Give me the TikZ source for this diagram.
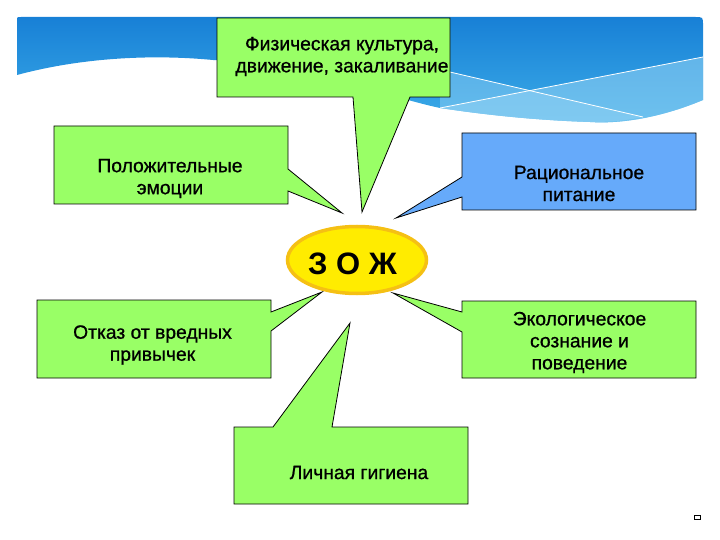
\documentclass[tikz,border=0pt]{standalone}
\usepackage{fontspec}
\setmainfont{Liberation Sans}
\newfontfamily\boxfont[FakeBold=0.8]{Liberation Sans}
\definecolor{callgreen}{RGB}{153,255,102}
\definecolor{callblue}{RGB}{102,170,250}
\definecolor{zojyellow}{RGB}{255,236,0}
\definecolor{zojrim}{RGB}{245,192,20}
\definecolor{skytop}{RGB}{24,128,214}
\definecolor{skylow}{RGB}{60,172,232}
\definecolor{skypale}{RGB}{150,212,245}

\tikzset{
  callout/.style = {draw = black, line width = 0.8bp, line join = miter},
  calltext/.style = {align = center, inner sep = 0pt, font = \boxfont\fontsize{19.3bp}{22bp}\selectfont}
}

\begin{document}
\begin{tikzpicture}[x = 1bp, y = -1bp]
    \useasboundingbox (0, 0) rectangle (720, 540);
    % sky band
    \shade [top color = skytop, bottom color = skylow] (17, 75) -- (17, 21)
        .. controls (17, 17) .. (21, 17) -- (695, 17) .. controls (703, 17) .. (703, 25) -- (703, 100)
        .. controls (660, 118) and (620, 124) .. (590, 122)
        .. controls (530, 120) and (480, 114) .. (440, 108)
        .. controls (380, 95) and (300, 62) .. (213, 60)
        .. controls (150, 54) and (80, 58) .. (17, 75);
    \fill [skypale, opacity = 0.45] (450, 72) -- (643, 117)
        .. controls (620, 122) and (600, 122) .. (590, 122)
        .. controls (530, 120) and (480, 114) .. (440, 108) -- (440, 70) -- cycle;
    \fill [skypale, opacity = 0.55] (440, 108) -- (703, 57) -- (703, 100)
        .. controls (660, 118) and (620, 124) .. (590, 122)
        .. controls (530, 120) and (480, 114) .. (440, 108);
    \draw [white, line width = 0.8bp] (440, 69.7) -- (643, 117);
    \draw [white, line width = 0.8bp] (440, 108) -- (703, 57);

    % callouts
    \filldraw [callout, fill = callgreen] (217, 18) -- (450, 18) -- (450, 97) -- (410, 97)
        -- (362, 212) -- (353, 97) -- (217, 97) -- cycle;
    \node [calltext] (fiz) at (342, 56.5) {Физическая культура,\\движение, закаливание};

    \filldraw [callout, fill = callgreen] (54, 126) -- (288, 126) -- (288, 169) -- (342, 213)
        -- (288, 191) -- (288, 204) -- (54, 204) -- cycle;
    \node [calltext] (emo) at (170, 178.5) {Положительные\\эмоции};

    \filldraw [callout, fill = callblue] (462, 133) -- (696, 133) -- (696, 210) -- (462, 210)
        -- (462, 197) -- (396, 218) -- (462, 177) -- cycle;
    \node [calltext] (pit) at (579, 183.5) {Рациональное\\питание};

    \filldraw [callout, fill = callgreen] (37, 300) -- (271, 300) -- (271, 312) -- (322, 292)
        -- (271, 331) -- (271, 378) -- (37, 378) -- cycle;
    \node [calltext] (otk) at (152.5, 345) {Отказ от вредных\\привычек};

    \filldraw [callout, fill = callgreen] (462, 301) -- (462, 312) -- (393, 293) -- (462, 332)
        -- (462, 378) -- (696, 378) -- (696, 301) -- cycle;
    \node [calltext] (eko) at (579.5, 342.5) {Экологическое\\сознание и\\поведение};

    \filldraw [callout, fill = callgreen] (234, 427) -- (273, 427) -- (350, 323) -- (332, 427)
        -- (468, 427) -- (468, 504) -- (234, 504) -- cycle;
    \node [calltext] (gig) at (359, 472.5) {Личная гигиена};

    % centre
    \filldraw [draw = zojrim, fill = zojyellow, line width = 3.5bp] (357, 260) ellipse [x radius = 69.5, y radius = 33.5];
    \node [inner sep = 0pt, font = \fontsize{31bp}{31bp}\selectfont\bfseries] (zoj) at (352.5, 264) {З О Ж};

    \draw [line width = 0.6bp] (694, 515.5) rectangle (700, 519.5);
\end{tikzpicture}
\end{document}
